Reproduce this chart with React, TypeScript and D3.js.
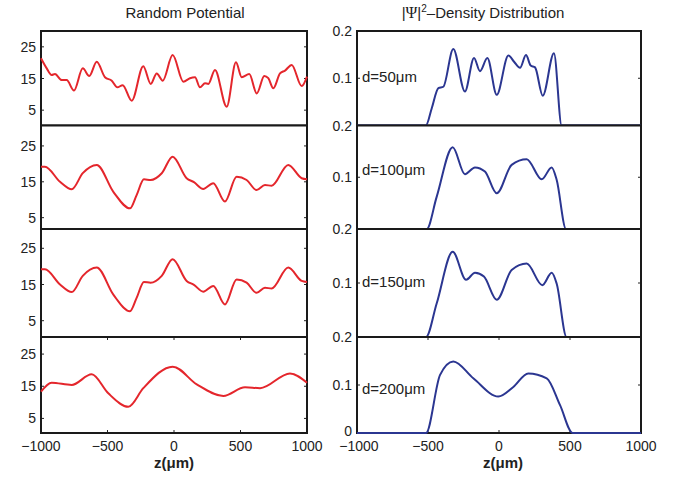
import React from 'react';
import * as d3 from 'd3';

const W = 679;
const H = 479;

// ---- data ----
const zDomain = [-1000, 1000];
const xTickValues = [-1000, -500, 0, 500, 1000];
const xInnerTicks = [-500, 0, 500];
const potTickValues = [5, 15, 25];
const densTickValues = [0, 0.1, 0.2];
const densLabels = ['d=50μm', 'd=100μm', 'd=150μm', 'd=200μm'];

const potZ1 = [-1000, -957, -920, -895, -844, -807, -752, -686, -637, -581, -519, -468, -426, -386, -318, -231, -175, -130, -85, -10, 70, 120, 158, 195, 233, 258, 308, 396, 466, 509, 566, 622, 679, 709, 747, 797, 835, 885, 960, 1000];
const potV1 = [21.4, 18.2, 16.1, 16.4, 14.5, 14.5, 11.2, 18.2, 15.8, 20.3, 15.4, 14.3, 12.2, 12.9, 8.0, 18.9, 13.3, 16.6, 14.3, 22.4, 14.0, 15.1, 15.4, 12.2, 13.5, 13.3, 17.7, 6.1, 20.1, 15.4, 16.4, 10.3, 15.8, 15.1, 11.9, 16.6, 17.5, 19.3, 12.6, 15.6];

const potZ2 = [-1000, -970, -857, -769, -686, -581, -456, -331, -281, -226, -176, -92, -10, 95, 150, 220, 295, 383, 471, 546, 621, 684, 734, 859, 960, 1000];
const potV2 = [19.2, 19.2, 15.0, 12.9, 17.4, 19.7, 12.2, 7.6, 11.3, 15.7, 15.5, 17.4, 22.0, 16.0, 14.9, 13.0, 14.6, 9.5, 16.4, 15.5, 12.7, 14.1, 13.9, 19.7, 16.0, 15.7];

const potZ3 = potZ2;
const potV3 = potV2;

const potZ4 = [-1000, -920, -769, -619, -494, -344, -231, -10, 171, 371, 534, 647, 872, 1000];
const potV4 = [13.3, 16.1, 15.4, 18.7, 12.8, 8.6, 14.4, 21.1, 15.6, 12.0, 14.7, 14.4, 19.0, 16.1];

const densZ1 = [-1000, -515, -474, -427, -392, -322, -240, -176, -134, -82, -16, 66, 106, 148, 190, 223, 254, 308, 387, 441, 1000];
const densV1 = [0, 0, 0.036, 0.079, 0.082, 0.162, 0.072, 0.143, 0.115, 0.143, 0.065, 0.148, 0.135, 0.122, 0.149, 0.127, 0.123, 0.063, 0.153, 0, 0];

const densZ2 = [-1000, -509, -439, -326, -240, -169, -99, -16, 89, 195, 301, 371, 406, 472, 1000];
const densV2 = [0, 0, 0.062, 0.158, 0.106, 0.119, 0.111, 0.069, 0.124, 0.135, 0.096, 0.119, 0.095, 0, 0];

const densZ3 = [-1000, -514, -439, -326, -232, -169, -106, -16, 89, 195, 305, 371, 406, 476, 1000];
const densV3 = [0, 0, 0.062, 0.158, 0.106, 0.119, 0.112, 0.069, 0.124, 0.136, 0.096, 0.119, 0.099, 0, 0];

const densZ4 = [-1000, -514, -415, -322, -181, -5, 101, 206, 336, 430, 519, 1000];
const densV4 = [0, 0, 0.121, 0.149, 0.114, 0.076, 0.096, 0.124, 0.114, 0.058, 0, 0];

const potSeries = [[potZ1, potV1], [potZ2, potV2], [potZ3, potV3], [potZ4, potV4]];
const densSeries = [[densZ1, densV1], [densZ2, densV2], [densZ3, densV3], [densZ4, densV4]];

// ---- layout ----
const boxes = [[31, 125.5], [125.5, 229], [229, 337], [337, 433]];
const leftPix = [[126, 31], [235.6, 128], [338.8, 230.2], [434.5, 338]];
const labelBaselines = [82, 175, 287, 394];
const LX: [number, number] = [41, 307];
const RX: [number, number] = [357, 641];
const RED = '#e4262c';
const BLUE = '#2b3691';
const FONT = '"Liberation Sans", Arial, Helvetica, sans-serif';
const TXT = '#222';

const xL = d3.scaleLinear().domain(zDomain).range(LX);
const xR = d3.scaleLinear().domain(zDomain).range(RX);

function makeLine(x: d3.ScaleLinear<number, number>, y: d3.ScaleLinear<number, number>, zs: number[], vs: number[]) {
  const pts = zs.map((z, i) => [z, vs[i]] as [number, number]);
  return d3.line<[number, number]>().x(d => x(d[0])).y(d => y(d[1])).curve(d3.curveMonotoneX)(pts) || '';
}

function Panel({ side, i }: { side: 'L' | 'R'; i: number }) {
  const [top, bottom] = boxes[i];
  const x = side === 'L' ? xL : xR;
  const [x0, x1] = side === 'L' ? LX : RX;
  const y = side === 'L'
    ? d3.scaleLinear().domain([0, 30]).range(leftPix[i])
    : d3.scaleLinear().domain([0, 0.2]).range([bottom, top]);
  const ticks = side === 'L' ? potTickValues : (i === 3 ? densTickValues : densTickValues.filter(t => t > 0));
  const [zs, vs] = side === 'L' ? potSeries[i] : densSeries[i];
  const tl = 3;
  const isLast = i === 3;
  return (
    <g>
      <rect x={x0} y={top} width={x1 - x0} height={bottom - top} fill="#fff" />
      {ticks.map(t => (
        <g key={'yt' + t}>
          <line x1={x0} x2={x0 + tl} y1={y(t)} y2={y(t)} stroke="#222" strokeWidth={1} />
          <line x1={x1} x2={x1 - tl} y1={y(t)} y2={y(t)} stroke="#222" strokeWidth={1} />
          <text x={x0 - 5} y={side === 'R' && t === 0 ? y(t) - 2 : y(t)} dy="0.36em" textAnchor="end" fontSize={14} fontFamily={FONT} fill={TXT}>
            {side === 'L' ? String(t) : (t === 0 ? '0' : d3.format('.1f')(t))}
          </text>
        </g>
      ))}
      {isLast && xInnerTicks.map(t => (
        <g key={'xt' + t}>
          <line x1={x(t)} x2={x(t)} y1={bottom} y2={bottom - tl} stroke="#222" strokeWidth={1} />
          <line x1={x(t)} x2={x(t)} y1={top} y2={top + tl} stroke="#222" strokeWidth={1} />
        </g>
      ))}
      <rect x={x0} y={top} width={x1 - x0} height={bottom - top} fill="none" stroke="#1a1a1a" strokeWidth={2} />
      <path d={makeLine(x, y, zs, vs)} fill="none" stroke={side === 'L' ? RED : BLUE} strokeWidth={2} strokeLinejoin="round" />
      {side === 'R' && (
        <text x={362} y={labelBaselines[i]} fontSize={15} fontFamily={FONT} fill={TXT}>{densLabels[i]}</text>
      )}
    </g>
  );
}

export default function App() {
  return (
    <svg width={W} height={H} style={{ position: 'absolute', left: 0, top: 0, background: '#fff' }}>
      <rect x={0} y={0} width={W} height={H} fill="#fff" />
      {[0, 1, 2, 3].map(i => (
        <g key={i}>
          <Panel side="L" i={i} />
          <Panel side="R" i={i} />
        </g>
      ))}
      {xTickValues.map(t => (
        <g key={'xl' + t}>
          <text x={xL(t)} y={451} textAnchor="middle" fontSize={14} fontFamily={FONT} fill={TXT}>{t < 0 ? '−' + Math.abs(t) : String(t)}</text>
          <text x={xR(t) + (t === -1000 ? 2 : 0)} y={451} textAnchor="middle" fontSize={14} fontFamily={FONT} fill={TXT}>{t < 0 ? '−' + Math.abs(t) : String(t)}</text>
        </g>
      ))}
      <text x={174} y={468} textAnchor="middle" fontSize={15} fontWeight="bold" fontFamily={FONT} fill={TXT}>z(μm)</text>
      <text x={503} y={468} textAnchor="middle" fontSize={15} fontWeight="bold" fontFamily={FONT} fill={TXT}>z(μm)</text>
      <text x={185} y={18} textAnchor="middle" fontSize={15} fontFamily={FONT} fill={TXT}>Random Potential</text>
      <text x={483} y={18} textAnchor="middle" fontSize={15} fontFamily={FONT} fill={TXT}>
        |<tspan fontFamily='"Liberation Serif", "Times New Roman", serif' fontSize={16}>Ψ</tspan>|<tspan dy={-6} fontSize={10}>2</tspan><tspan dy={6}>–Density Distribution</tspan>
      </text>
    </svg>
  );
}
